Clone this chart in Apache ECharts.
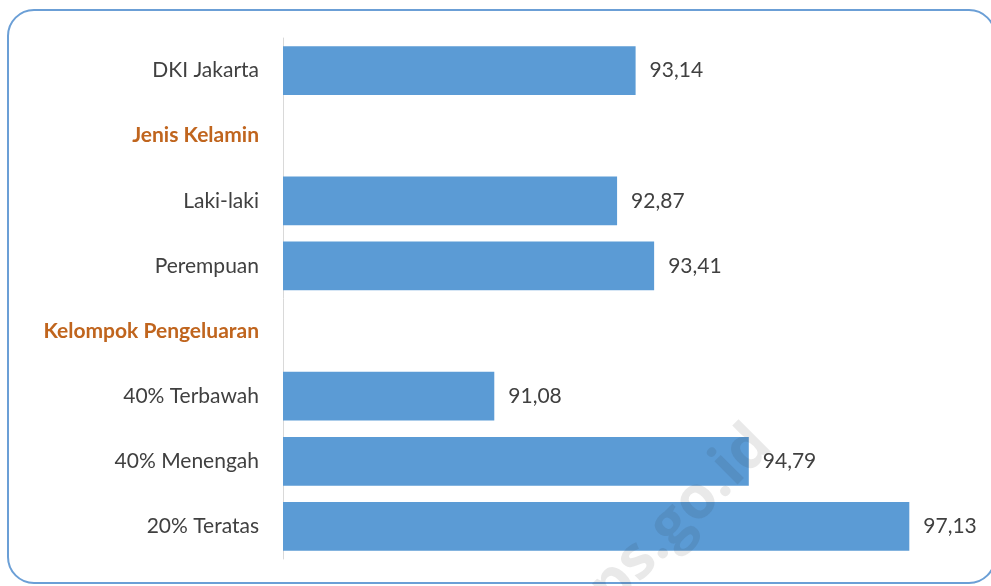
<!DOCTYPE html>
<html>
<head>
<meta charset="utf-8">
<script src="https://cdn.jsdelivr.net/npm/echarts@6/dist/echarts.min.js"></script>
<style>
  html, body { margin: 0; padding: 0; background: #fff; }
  #chart { width: 991px; height: 586px; }
</style>
</head>
<body>
<div id="chart"></div>
<script>
const categories = ['DKI Jakarta', 'Jenis Kelamin', 'Laki-laki', 'Perempuan', 'Kelompok Pengeluaran', '40% Terbawah', '40% Menengah', '20% Teratas'];
const values = [93.14, null, 92.87, 93.41, null, 91.08, 94.79, 97.13];
const headers = ['Jenis Kelamin', 'Kelompok Pengeluaran'];

const chart = echarts.init(document.getElementById('chart'));

const option = {
  backgroundColor: '#fff',
  animation: false,
  graphic: [
    {
      type: 'rect',
      shape: { x: 8, y: 10, width: 987, height: 573, r: 26 },
      style: { fill: 'none', stroke: '#6b9fd6', lineWidth: 2 },
      z: 0
    },
    {
      type: 'text',
      x: 762, y: 436,
      rotation: 0.785,
      style: {
        text: 'bps.go.id',
        font: 'bold 60px "Open Sans"',
        fill: 'rgba(40,40,40,0.1)',
        align: 'right',
        verticalAlign: 'middle'
      },
      z: 10
    }
  ],
  grid: { left: 283, right: 22, top: 38, bottom: 27, containLabel: false },
  xAxis: {
    type: 'value',
    min: 88,
    max: 98,
    show: false
  },
  yAxis: {
    type: 'category',
    inverse: true,
    data: categories,
    axisLine: { show: true, lineStyle: { color: '#d9d9d9', width: 1 } },
    axisTick: { show: false },
    axisLabel: {
      margin: 24,
      fontFamily: 'Lato',
      fontSize: 21,
      formatter: v => headers.includes(v) ? '{h|' + v + '}' : '{n|' + v + '}',
      rich: {
        n: { color: '#404040', fontFamily: 'Lato', fontSize: 21 },
        h: { color: '#c0651e', fontFamily: 'Lato', fontSize: 21, fontWeight: 'bold' }
      }
    }
  },
  series: [{
    type: 'bar',
    data: values,
    barCategoryGap: '25%',
    itemStyle: { color: '#5b9bd5' },
    label: {
      show: true,
      position: 'right',
      distance: 14,
      color: '#404040',
      fontFamily: 'Lato',
      fontSize: 21,
      formatter: p => p.value == null ? '' : p.value.toFixed(2).replace('.', ',')
    }
  }]
};

chart.setOption(option);
</script>
</body>
</html>
